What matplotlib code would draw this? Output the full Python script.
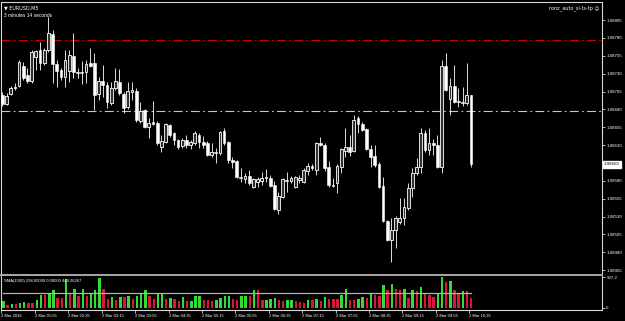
import matplotlib
matplotlib.use('Agg')
import matplotlib.pyplot as plt
import numpy as np

# EURUSD M5, 2 Mar 2016 01:15 .. 10:35 (113 bars)
opens = [1.08700, 1.08687, 1.08701, 1.08710, 1.08713, 1.08741, 1.08728, 1.08720, 1.08753, 1.08763,
         1.08745, 1.08763, 1.08785, 1.08743, 1.08735, 1.08725, 1.08734, 1.08755, 1.08732, 1.08732,
         1.08732, 1.08745, 1.08745, 1.08701, 1.08720, 1.08714, 1.08689, 1.08710, 1.08718, 1.08701,
         1.08683, 1.08704, 1.08706, 1.08664, 1.08679, 1.08655, 1.08662, 1.08661, 1.08627, 1.08634,
         1.08658, 1.08647, 1.08637, 1.08629, 1.08637, 1.08630, 1.08633, 1.08644, 1.08634, 1.08633,
         1.08616, 1.08620, 1.08619, 1.08650, 1.08634, 1.08609, 1.08608, 1.08585, 1.08582, 1.08587,
         1.08571, 1.08578, 1.08580, 1.08584, 1.08584, 1.08574, 1.08539, 1.08557, 1.08581, 1.08580,
         1.08571, 1.08581, 1.08578, 1.08594, 1.08601, 1.08595, 1.08633, 1.08630, 1.08599, 1.08574,
         1.08577, 1.08599, 1.08622, 1.08627, 1.08622, 1.08668, 1.08659, 1.08652, 1.08624, 1.08615,
         1.08603, 1.08573, 1.08524, 1.08497, 1.08511, 1.08522, 1.08528, 1.08542, 1.08570, 1.08591,
         1.08599, 1.08647, 1.08623, 1.08633, 1.08630, 1.08599, 1.08741, 1.08694, 1.08713, 1.08692,
         1.08690, 1.08689, 1.08700]
highs = [1.08704, 1.08703, 1.08713, 1.08717, 1.08749, 1.08746, 1.08738, 1.08763, 1.08763, 1.08774,
         1.08766, 1.08809, 1.08791, 1.08749, 1.08738, 1.08763, 1.08763, 1.08787, 1.08738, 1.08748,
         1.08749, 1.08766, 1.08759, 1.08725, 1.08742, 1.08718, 1.08718, 1.08738, 1.08736, 1.08704,
         1.08718, 1.08718, 1.08710, 1.08690, 1.08680, 1.08668, 1.08692, 1.08664, 1.08644, 1.08661,
         1.08659, 1.08648, 1.08638, 1.08640, 1.08644, 1.08637, 1.08650, 1.08647, 1.08643, 1.08636,
         1.08633, 1.08626, 1.08650, 1.08654, 1.08636, 1.08613, 1.08609, 1.08598, 1.08591, 1.08595,
         1.08584, 1.08585, 1.08592, 1.08596, 1.08588, 1.08580, 1.08564, 1.08584, 1.08592, 1.08587,
         1.08587, 1.08588, 1.08598, 1.08605, 1.08603, 1.08634, 1.08641, 1.08633, 1.08608, 1.08584,
         1.08603, 1.08626, 1.08654, 1.08644, 1.08672, 1.08671, 1.08662, 1.08654, 1.08630, 1.08630,
         1.08606, 1.08585, 1.08525, 1.08528, 1.08531, 1.08556, 1.08556, 1.08577, 1.08598, 1.08612,
         1.08654, 1.08651, 1.08654, 1.08638, 1.08644, 1.08749, 1.08759, 1.08724, 1.08742, 1.08710,
         1.08711, 1.08745, 1.08700]
lows = [1.08685, 1.08686, 1.08700, 1.08707, 1.08711, 1.08721, 1.08717, 1.08717, 1.08735, 1.08735,
        1.08742, 1.08760, 1.08717, 1.08711, 1.08721, 1.08711, 1.08718, 1.08724, 1.08724, 1.08715,
        1.08717, 1.08739, 1.08679, 1.08693, 1.08697, 1.08682, 1.08686, 1.08707, 1.08700, 1.08675,
        1.08680, 1.08693, 1.08662, 1.08661, 1.08654, 1.08640, 1.08658, 1.08630, 1.08620, 1.08633,
        1.08641, 1.08630, 1.08624, 1.08626, 1.08626, 1.08624, 1.08630, 1.08626, 1.08626, 1.08615,
        1.08613, 1.08605, 1.08616, 1.08630, 1.08605, 1.08598, 1.08584, 1.08578, 1.08577, 1.08574,
        1.08570, 1.08571, 1.08574, 1.08578, 1.08571, 1.08539, 1.08533, 1.08556, 1.08564, 1.08577,
        1.08570, 1.08577, 1.08577, 1.08588, 1.08595, 1.08588, 1.08629, 1.08594, 1.08571, 1.08571,
        1.08563, 1.08591, 1.08613, 1.08615, 1.08620, 1.08647, 1.08650, 1.08623, 1.08599, 1.08599,
        1.08570, 1.08522, 1.08496, 1.08466, 1.08486, 1.08519, 1.08518, 1.08539, 1.08557, 1.08588,
        1.08591, 1.08620, 1.08616, 1.08616, 1.08598, 1.08591, 1.08706, 1.08672, 1.08689, 1.08683,
        1.08685, 1.08686, 1.08599]
closes = [1.08687, 1.08699, 1.08710, 1.08711, 1.08746, 1.08724, 1.08720, 1.08760, 1.08762, 1.08745,
          1.08763, 1.08787, 1.08743, 1.08734, 1.08725, 1.08749, 1.08756, 1.08732, 1.08731, 1.08731,
          1.08743, 1.08741, 1.08700, 1.08720, 1.08714, 1.08690, 1.08710, 1.08720, 1.08703, 1.08682,
          1.08706, 1.08707, 1.08665, 1.08678, 1.08655, 1.08661, 1.08659, 1.08633, 1.08636, 1.08659,
          1.08644, 1.08637, 1.08627, 1.08637, 1.08630, 1.08634, 1.08647, 1.08634, 1.08630, 1.08616,
          1.08620, 1.08619, 1.08648, 1.08633, 1.08609, 1.08606, 1.08585, 1.08584, 1.08587, 1.08577,
          1.08582, 1.08582, 1.08584, 1.08585, 1.08573, 1.08540, 1.08559, 1.08582, 1.08580, 1.08584,
          1.08585, 1.08584, 1.08595, 1.08601, 1.08598, 1.08633, 1.08630, 1.08598, 1.08574, 1.08573,
          1.08601, 1.08624, 1.08627, 1.08620, 1.08665, 1.08659, 1.08651, 1.08624, 1.08613, 1.08602,
          1.08571, 1.08524, 1.08497, 1.08511, 1.08528, 1.08528, 1.08543, 1.08570, 1.08591, 1.08599,
          1.08647, 1.08623, 1.08633, 1.08630, 1.08599, 1.08741, 1.08707, 1.08713, 1.08690, 1.08690,
          1.08689, 1.08700, 1.08603]
volumes = [220, 103, 132, 132, 151, 181, 151, 151, 230, 396,
           396, 445, 542, 298, 298, 855, 445, 572, 347, 562,
           366, 445, 523, 884, 562, 269, 327, 249, 327, 327,
           347, 269, 347, 445, 542, 347, 269, 415, 425, 278,
           298, 269, 220, 327, 210, 220, 347, 366, 249, 230,
           210, 249, 298, 347, 366, 269, 249, 347, 366, 366,
           542, 542, 230, 249, 269, 298, 230, 200, 230, 249,
           200, 171, 151, 230, 230, 269, 200, 318, 269, 269,
           269, 396, 562, 249, 249, 269, 327, 298, 425, 396,
           347, 689, 523, 718, 562, 542, 562, 298, 523, 493,
           620, 425, 396, 327, 425, 907, 786, 806, 542, 445,
           493, 493, 298]

time_labels = ['2 Mar 2016', '2 Mar 01:55', '2 Mar 02:35', '2 Mar 03:15', '2 Mar 03:55',
               '2 Mar 04:35', '2 Mar 05:15', '2 Mar 05:55', '2 Mar 06:35', '2 Mar 07:15',
               '2 Mar 07:55', '2 Mar 08:35', '2 Mar 09:15', '2 Mar 09:55', '2 Mar 10:35']
price_ticks = [1.08805, 1.08780, 1.08755, 1.08730, 1.08705, 1.08680, 1.08655, 1.08630,
               1.08580, 1.08555, 1.08530, 1.08505, 1.08480, 1.08455]
red_level = 1.08777
white_level = 1.08678
last_price = 1.08603
sma_value = 449.26267
vol_max = 907.2

W, H = 625, 321
fig = plt.figure(figsize=(W / 100, H / 100), dpi=100, facecolor='black')

def box(x0, y0, x1, y1):
    # pixel box (top-left origin) -> figure fraction rect
    return [x0 / W, 1 - y1 / H, (x1 - x0) / W, (y1 - y0) / H]

ax = fig.add_axes(box(1.5, 1.5, 601.5, 274.5))
axv = fig.add_axes(box(1.5, 276.0, 601.5, 309.5))
for a in (ax, axv):
    a.set_facecolor('black')

n = len(closes)
x = np.arange(n)
o = np.array(opens); c = np.array(closes)
hi = np.array(highs); lo = np.array(lows)
up = c >= o

ax.vlines(x, lo, hi, color='white', lw=0.6, zorder=2)
bot = np.minimum(o, c)
hgt = np.maximum(np.abs(c - o), 0.000008)
ax.bar(x[up], hgt[up], 0.66, bottom=bot[up], facecolor='#303030', edgecolor='white', lw=0.6, zorder=3)
ax.bar(x[~up], hgt[~up], 0.66, bottom=bot[~up], facecolor='white', edgecolor='white', lw=0.4, zorder=3)

ax.axhline(red_level, color='#c80000', lw=0.8, ls=(0, (8, 3, 1.5, 3)), zorder=1)
ax.axhline(white_level, color='#c8c8c8', lw=0.8, ls=(0, (8, 3, 1.5, 3)), zorder=1)

xmin, xmax = -0.2, 143.2
ax.set_xlim(xmin, xmax)
ax.set_ylim(1.08449, 1.08831)
ax.yaxis.tick_right()
ax.set_yticks(price_ticks)
ax.set_yticklabels([f'{p:.5f}' for p in price_ticks])
ax.tick_params(axis='y', colors='white', labelsize=3.2, length=2, width=0.5, pad=1.5,
               labelfontfamily='Liberation Sans')
ax.set_xticks([])
for s in ('top', 'left', 'right'):
    ax.spines[s].set_color('#d8d8d8')
    ax.spines[s].set_linewidth(0.8)
ax.spines['bottom'].set_color('#a8a8a8')
ax.spines['bottom'].set_linewidth(1.4)

ax.text(1.004, last_price, f'{last_price:.5f}', transform=ax.get_yaxis_transform(),
        ha='left', va='center', fontsize=3.2, color='black', family='Liberation Sans',
        bbox=dict(boxstyle='square,pad=0.25', fc='white', ec='white'))

ax.text(0.004, 0.985, '\u25bc EURUSD,M5', transform=ax.transAxes, ha='left', va='top',
        fontsize=3.5, color='white', family='DejaVu Sans')
ax.text(0.004, 0.957, '3 minutes 14 seconds', transform=ax.transAxes, ha='left', va='top',
        fontsize=3.5, color='white', family='Liberation Sans')
ax.text(0.996, 0.985, 'ronz_auto_sl-ts-tp \u263a', transform=ax.transAxes, ha='right', va='top',
        fontsize=3.5, color='white', family='DejaVu Sans')

# volumes, green when rising vs previous bar
vols = np.array(volumes, dtype=float)
vcol = ['#32dc32' if i == 0 or vols[i] > vols[i - 1] else '#dc143c' for i in range(n)]
axv.bar(x, vols, 0.58, color=vcol, lw=0)
axv.plot([xmin, n - 1], [sma_value, sma_value], color='#b4b4b4', lw=0.9)
axv.set_xlim(xmin, xmax)
axv.set_ylim(-45, 950)
axv.yaxis.tick_right()
axv.set_yticks([vol_max, 0])
axv.set_yticklabels([f'{vol_max:.1f}', '0'])
axv.tick_params(axis='y', colors='white', labelsize=3.2, length=2, width=0.5, pad=1.5,
                labelfontfamily='Liberation Sans')
tick_idx = np.arange(0, n, 8)
axv.set_xticks(tick_idx - 0.45)
axv.set_xticklabels(time_labels, ha='left')
axv.tick_params(axis='x', colors='white', labelsize=3.0, length=2, width=0.5, pad=1.2,
                labelfontfamily='Liberation Sans')
for s in ('bottom', 'left', 'right'):
    axv.spines[s].set_color('#d8d8d8')
    axv.spines[s].set_linewidth(0.8)
axv.spines['top'].set_visible(False)
axv.text(0.004, 0.9, f'SMA(1500) 298.00000 0.00000 {sma_value:.5f}', transform=axv.transAxes,
         ha='left', va='top', fontsize=3.0, color='white', family='Liberation Sans')

fig.savefig('out.png', dpi=100, facecolor='black')
